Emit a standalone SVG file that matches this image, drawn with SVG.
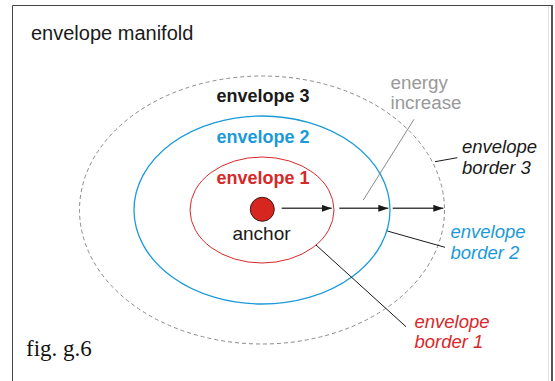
<svg xmlns="http://www.w3.org/2000/svg" width="555" height="381" viewBox="0 0 555 381">
  <defs>
    <style>
      .sans { font-family: "Liberation Sans", Arial, sans-serif; }
      .bold { font-weight: bold; font-size: 18px; }
      .ital { font-style: italic; font-size: 18.5px; }
      .red { fill: #d7282a; }
      .blue { fill: #1b9ad8; }
      .blk { fill: #1a1a1a; }
      .leader { stroke: #1a1a1a; stroke-width: 1; fill: none; }
      .arrow { stroke: #444; stroke-width: 1.6; fill: none; marker-end: url(#ah); }
    </style>
    <marker id="ah" viewBox="0 0 10 7" refX="10" refY="3.5" markerWidth="10" markerHeight="7" markerUnits="userSpaceOnUse" orient="auto">
      <path d="M0,0 L10,3.5 L0,7 Z" fill="#1a1a1a"/>
    </marker>
  </defs>
  <rect width="555" height="381" fill="#ffffff"/>
  <g id="frame">
    <path d="M12.5,381 V5.5 H552" fill="none" stroke="#444" stroke-width="1"/>
    <line x1="552" y1="5" x2="552" y2="381" stroke="#555" stroke-width="2"/>
    <line x1="548.5" y1="6" x2="548.5" y2="381" stroke="#e4e4e4" stroke-width="1"/>
    <text x="31" y="40" class="sans blk" font-size="20">envelope manifold</text>
    <text x="26" y="356" font-family="'Liberation Serif', 'Times New Roman', serif" font-size="23" fill="#111">fig. g.6</text>
  </g>
  <g id="envelope3">
    <ellipse cx="262" cy="210" rx="182.5" ry="134" fill="none" stroke="#8a8a8a" stroke-width="1" stroke-dasharray="4,3"/>
    <text x="263" y="101.7" text-anchor="middle" class="sans bold blk">envelope 3</text>
  </g>
  <g id="envelope2">
    <ellipse cx="262" cy="210" rx="128" ry="94" fill="none" stroke="#1b9ad8" stroke-width="1.3"/>
    <text x="263" y="142.7" text-anchor="middle" class="sans bold blue">envelope 2</text>
  </g>
  <g id="envelope1">
    <ellipse cx="262" cy="210" rx="72" ry="53" fill="none" stroke="#d7282a" stroke-width="1"/>
    <text x="263" y="184" text-anchor="middle" class="sans bold red">envelope 1</text>
  </g>
  <g id="anchor">
    <circle cx="262.3" cy="209.3" r="12" fill="#d7261f" stroke="#3a1a1a" stroke-width="1"/>
    <text x="261.5" y="240" text-anchor="middle" class="sans blk" font-size="19">anchor</text>
  </g>
  <g id="energy-increase">
    <text x="390.5" y="89" class="sans" font-size="18.8" fill="#999">energy</text>
    <text x="390.5" y="109.3" class="sans" font-size="18.8" fill="#999">increase</text>
  </g>
  <g id="border3-label">
    <text x="462" y="152.7" class="sans ital blk">envelope</text>
    <text x="462" y="174" class="sans ital blk">border 3</text>
  </g>
  <g id="border2-label">
    <text x="450.5" y="238.3" class="sans ital blue">envelope</text>
    <text x="450.5" y="259" class="sans ital blue">border 2</text>
  </g>
  <g id="border1-label">
    <text x="414.5" y="328.3" class="sans ital red">envelope</text>
    <text x="414.5" y="348.3" class="sans ital red">border 1</text>
  </g>
  <g id="connectors">
    <line class="arrow" x1="281.7" y1="208.3" x2="331.7" y2="208.3"/>
    <line class="arrow" x1="339.3" y1="208.3" x2="388.3" y2="208.3"/>
    <line class="arrow" x1="392.7" y1="208.3" x2="443.3" y2="208.3"/>
    <line x1="414" y1="119.3" x2="363.3" y2="200" stroke="#8a8a8a" stroke-width="1"/>
    <line class="leader" x1="435" y1="161.7" x2="457.3" y2="157.7"/>
    <line class="leader" x1="387.3" y1="231" x2="445" y2="247.3"/>
    <line class="leader" x1="316" y1="245" x2="406" y2="326.7"/>
  </g>
</svg>
